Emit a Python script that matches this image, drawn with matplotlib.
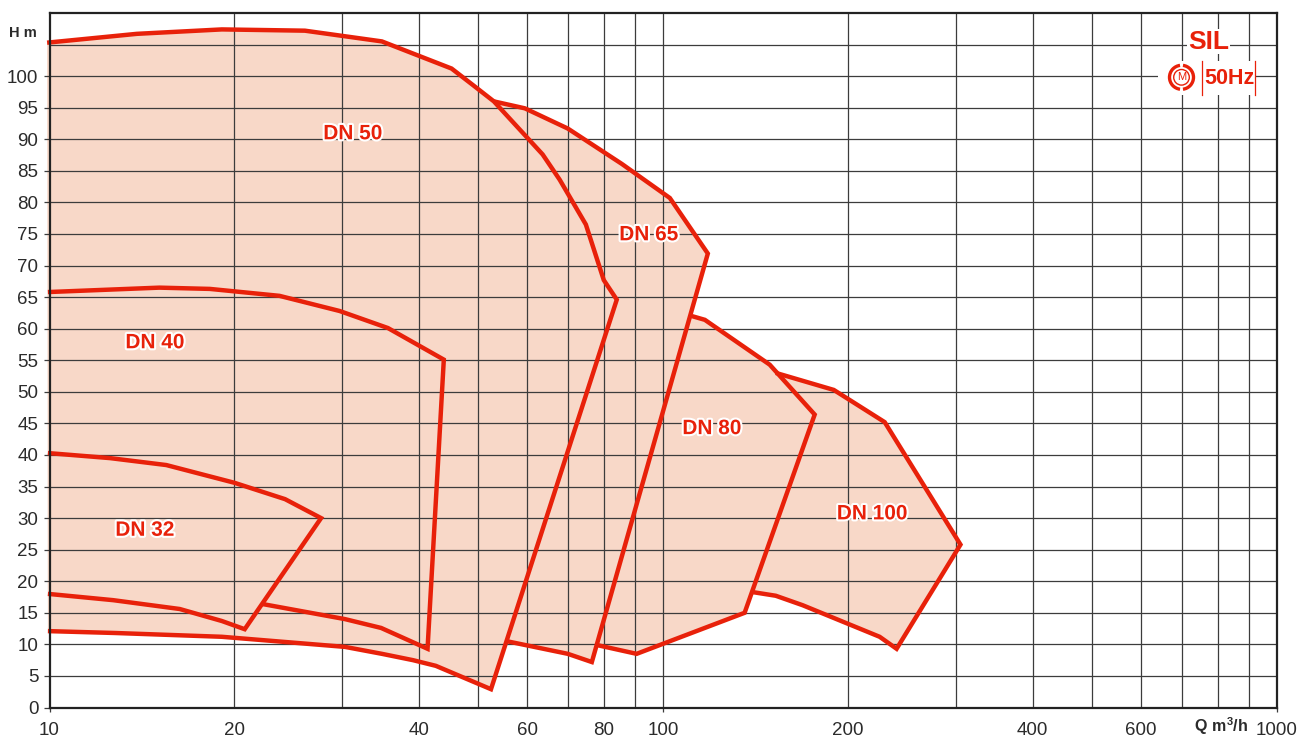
import matplotlib
matplotlib.use('Agg')
import matplotlib.pyplot as plt
import matplotlib.patheffects as pe
from matplotlib.patches import Arc, Circle, Rectangle

plt.rcParams['font.family'] = ['Liberation Sans', 'DejaVu Sans']
plt.rcParams['mathtext.fontset'] = 'custom'
plt.rcParams['mathtext.rm'] = 'Liberation Sans'
plt.rcParams['mathtext.bf'] = 'Liberation Sans:bold'

# Q (m3/h) and H (m) along the outline of each pump range
dn32_q = [9.94, 12.55, 15.5, 20.0, 24.2, 27.7, 20.8, 19.09, 16.3, 12.7, 9.94]
dn32_h = [40.3, 39.5, 38.4, 35.6, 33.0, 30.0, 12.4, 13.7, 15.6, 17.0, 18.0]

dn40_q = [9.94, 15.1, 18.25, 23.7, 29.7, 35.6, 43.9, 41.3, 34.7, 30.3, 22.2]
dn40_h = [65.8, 66.5, 66.3, 65.2, 62.8, 60.1, 55.1, 9.3, 12.6, 14.0, 16.4]

dn50_q = [9.91, 13.88, 19.09, 26.07, 34.8, 45.2, 49.1, 52.97, 63.6, 67.8, 74.8,
          80.0, 84.0, 52.4, 42.6, 39.1, 34.8, 30.3, 19.09, 12.8, 9.94]
dn50_h = [105.3, 106.7, 107.4, 107.2, 105.5, 101.2, 98.5, 96.0, 87.6, 83.6, 76.5,
          67.7, 64.6, 2.9, 6.6, 7.5, 8.5, 9.6, 11.2, 11.8, 12.1]

dn65_q = [52.97, 59.5, 69.9, 85.6, 102.5, 118.2, 76.5, 69.9, 55.6]
dn65_h = [96.0, 94.9, 91.7, 86.1, 80.7, 71.9, 7.2, 8.5, 10.5]

dn80_q = [111.3, 116.9, 149.1, 176.5, 135.7, 90.5, 77.9]
dn80_h = [62.0, 61.4, 54.3, 46.4, 15.0, 8.5, 9.9]

dn100_q = [152.5, 189.6, 229.5, 305, 240, 225.2, 168.7, 152.5, 139.4]
dn100_h = [53.0, 50.3, 45.2, 25.8, 9.3, 11.2, 16.2, 17.7, 18.3]

labels = ['DN 32', 'DN 40', 'DN 50', 'DN 65', 'DN 80', 'DN 100']
label_q = [14.3, 14.85, 31.2, 94.7, 120, 219]
label_h = [28.4, 58.1, 91.2, 75.2, 44.5, 31]

h_ticks = list(range(0, 105, 5))
q_labels = [10, 20, 40, 60, 80, 100, 200, 400, 600, 1000]
q_grid = [20, 30, 40, 50, 60, 70, 80, 90, 100, 200, 300, 400, 500, 600, 700, 800, 900]

RED = '#e8210a'
FILL = '#f8d8c8'
DARK = '#2b2b2b'

fig = plt.figure(figsize=(13, 7.38), dpi=100)
ax = fig.add_axes([49.5 / 1300, 1 - 707.5 / 738, (1277 - 49.5) / 1300, (707.5 - 13) / 738])
ax.set_xscale('log')
ax.set_xlim(10, 1000)
ax.set_ylim(0, 110)

outlines = [(dn32_q, dn32_h), (dn40_q, dn40_h), (dn50_q, dn50_h),
            (dn65_q, dn65_h), (dn80_q, dn80_h), (dn100_q, dn100_h)]

# fill first, grid over it, red outlines on top
for q, h in outlines:
    ax.fill(q, h, color=FILL, lw=0, zorder=1, clip_on=False)
for y in list(range(5, 110, 5)):
    ax.axhline(y, color='#3c3c3c', lw=0.9, zorder=2)
for x in q_grid:
    ax.axvline(x, color='#3c3c3c', lw=0.9, zorder=2)
for q, h in outlines:
    ax.plot(q, h, color=RED, lw=3.2, solid_joinstyle='miter', solid_capstyle='butt',
            zorder=3, clip_on=False)

for name, x, y in zip(labels, label_q, label_h):
    t = ax.annotate(name, (x, y), xytext=(0, -1.5), textcoords='offset points', color=RED,
                    fontsize=15, fontweight='bold', ha='center', va='center', zorder=4)
    t.set_path_effects([pe.withStroke(linewidth=3, foreground='white')])

ax.set_yticks(h_ticks)
ax.set_xticks([10, 100, 1000])
ax.set_xticklabels([])
ax.minorticks_off()
ax.tick_params(axis='y', length=4, width=0.9, color='#3c3c3c', labelsize=13.5, labelcolor=DARK, pad=4)
ax.tick_params(axis='x', length=3, width=0.9, color='#3c3c3c')
for s in ax.spines.values():
    s.set_linewidth(1.6)
    s.set_color('#222222')
    s.set_zorder(5)

for v in q_labels:
    ax.annotate(str(v), (v, 0), xytext=(0, -19.5), textcoords='offset points', ha='center',
                va='baseline', fontsize=13.5, color=DARK, annotation_clip=False)

# overlay in pixel coordinates for the axis titles and the badge
ov = fig.add_axes([0, 0, 1, 1], zorder=10)
ov.set_xlim(0, 1300)
ov.set_ylim(738, 0)
ov.axis('off')
ov.text(23, 33, 'H m', fontsize=10.5, fontweight='bold', color=DARK, ha='center', va='center')
ov.text(1221.5, 726, r'$\mathbf{Q\ m^{3}/h}$', fontsize=11.5, color=DARK, ha='center', va='center')

ov.add_patch(Rectangle((1187, 29), 43, 25, fc='white', ec='none'))
ov.add_patch(Rectangle((1158, 61), 97, 34, fc='white', ec='none'))
ov.text(1208.5, 42, 'SIL', fontsize=19, fontweight='bold', color=RED, ha='center', va='center')
ov.text(1229, 79, '50Hz', fontsize=15.5, fontweight='bold', color=RED, ha='center', va='center')
ov.plot([1202, 1202], [61, 95], color=RED, lw=0.9)
ov.plot([1255, 1255], [61, 95], color=RED, lw=0.9)
for start in (97, 277):
    ov.add_patch(Arc((1181.5, 77.3), 24, 24, theta1=start, theta2=start + 166, color=RED, lw=2.4))
ov.add_patch(Circle((1181.5, 77.3), 7.8, fc='none', ec=RED, lw=1.0))
ov.text(1181.5, 77.5, 'M', fontsize=8, color=RED, ha='center', va='center')

fig.savefig('out.png', dpi=100)
